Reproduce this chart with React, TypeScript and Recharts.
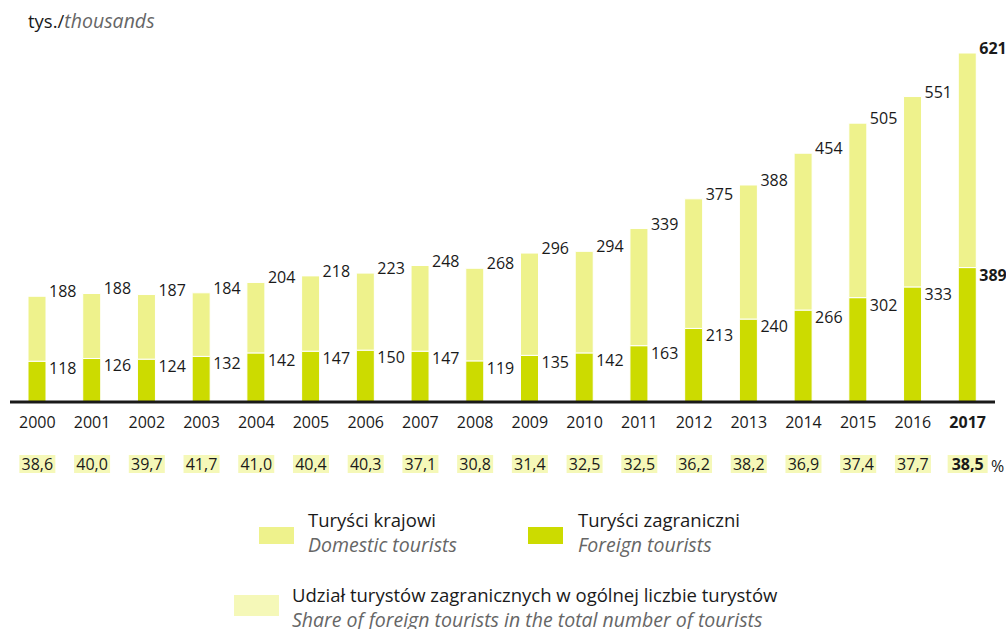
import { BarChart, Bar, XAxis, YAxis, LabelList } from "recharts";

const years = ["2000", "2001", "2002", "2003", "2004", "2005", "2006", "2007", "2008", "2009", "2010", "2011", "2012", "2013", "2014", "2015", "2016", "2017"];
const domestic = [188, 188, 187, 184, 204, 218, 223, 248, 268, 296, 294, 339, 375, 388, 454, 505, 551, 621];
const foreign = [118, 126, 124, 132, 142, 147, 150, 147, 119, 135, 142, 163, 213, 240, 266, 302, 333, 389];
const share = ["38,6", "40,0", "39,7", "41,7", "41,0", "40,4", "40,3", "37,1", "30,8", "31,4", "32,5", "32,5", "36,2", "38,2", "36,9", "37,4", "37,7", "38,5"];

const data = years.map((year, i) => ({
	year,
	domestic: domestic[i],
	foreign: foreign[i],
	share: share[i],
}));

const FONT = "'Open Sans', sans-serif";
const TEXT = "#1a1a1a";
const DOMESTIC = "#eef28c";
const FOREIGN = "#ccdb00";
const SHARE = "#f5f8b8";
const LAST = years.length - 1;

const YearTick = (props: any) => {
	const { x, payload, index } = props;
	const bold = index === LAST;
	const w = bold ? 40 : 36;
	return (
		<g>
			<text x={x} y={428} textAnchor="middle" fontSize={16} fontFamily={FONT} fill={TEXT} fontWeight={bold ? 700 : 400}>
				{payload.value}
			</text>
			<rect x={x - w / 2} y={455} width={w} height={18} fill={SHARE} />
			<text x={x} y={470} textAnchor="middle" fontSize={16} fontFamily={FONT} fill={TEXT} fontWeight={bold ? 700 : 400}>
				{share[index]}
			</text>
		</g>
	);
};

const makeLabel = (dy: number) => (props: any) => {
	const { x, y, width, value, index } = props;
	return (
		<text x={x + width + 3} y={y + dy} fontSize={16} fontFamily={FONT} fill={TEXT} fontWeight={index === LAST ? 700 : 400}>
			{value}
		</text>
	);
};

const Swatch = ({ left, top, w, h, color }: any) => (
	<div style={{ position: "absolute", left, top, width: w, height: h, background: color }} />
);

const LegendText = ({ left, top, pl, en }: any) => (
	<div style={{ position: "absolute", left, top, fontFamily: FONT, lineHeight: "25px", whiteSpace: "nowrap" }}>
		<div style={{ color: TEXT, fontSize: 18.5 }}>{pl}</div>
		<div style={{ color: "#666", fontStyle: "italic", fontSize: 19.5 }}>{en}</div>
	</div>
);

export default function App() {
	return (
		<div style={{ position: "absolute", left: 0, top: 0, width: 1006, height: 629, background: "#fff", overflow: "hidden" }}>
			<div style={{ position: "absolute", left: 28, top: 7, fontFamily: FONT, fontSize: 18.5, color: TEXT, whiteSpace: "nowrap" }}>
				tys./<span style={{ fontStyle: "italic", color: "#666", fontSize: 19.5 }}>thousands</span>
			</div>
			<BarChart width={1006} height={477} data={data} margin={{ top: 53, right: 11, left: 10, bottom: 0 }}>
				<XAxis
					dataKey="year"
					height={75}
					axisLine={{ stroke: TEXT, strokeWidth: 3 }}
					tickLine={false}
					interval={0}
					tick={<YearTick />}
				/>
				<YAxis hide domain={[0, 1010]} />
				<Bar dataKey="foreign" stackId="a" fill={FOREIGN} barSize={18} stroke="#fff" strokeWidth={1} isAnimationActive={false}>
					<LabelList dataKey="foreign" content={makeLabel(13)} />
				</Bar>
				<Bar dataKey="domestic" stackId="a" fill={DOMESTIC} barSize={18} stroke="#fff" strokeWidth={1} isAnimationActive={false}>
					<LabelList dataKey="domestic" content={makeLabel(1)} />
				</Bar>
			</BarChart>
			<div style={{ position: "absolute", left: 991, top: 455, fontFamily: FONT, fontSize: 16, color: TEXT }}>%</div>
			<Swatch left={259} top={527} w={35} h={17} color={DOMESTIC} />
			<LegendText left={308} top={507} pl="Turyści krajowi" en="Domestic tourists" />
			<Swatch left={528} top={527} w={35} h={17} color={FOREIGN} />
			<LegendText left={578} top={507} pl="Turyści zagraniczni" en="Foreign tourists" />
			<Swatch left={234} top={595} w={45} h={21} color={SHARE} />
			<LegendText left={292} top={582} pl="Udział turystów zagranicznych w ogólnej liczbie turystów" en="Share of foreign tourists in the total number of tourists" />
		</div>
	);
}
